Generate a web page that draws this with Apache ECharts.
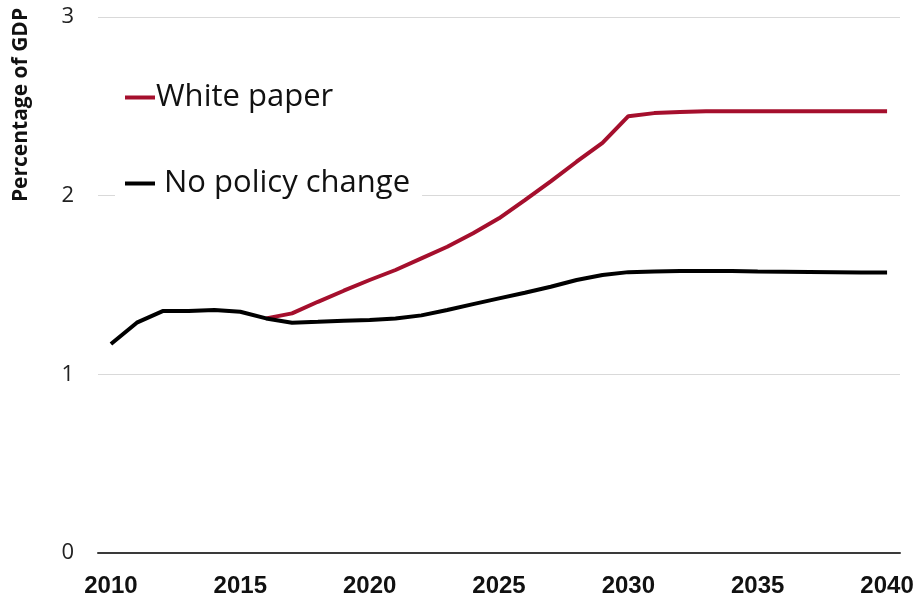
<!DOCTYPE html>
<html>
<head>
<meta charset="utf-8">
<script src="https://cdn.jsdelivr.net/npm/echarts@6/dist/echarts.min.js"></script>
<style>
html,body{margin:0;padding:0;background:#fff;}
#chart{width:917px;height:598px;}
</style>
</head>
<body>
<div id="chart"></div>
<script>
const years = ['2010','2011','2012','2013','2014','2015','2016','2017','2018','2019','2020','2021','2022','2023','2024','2025','2026','2027','2028','2029','2030','2031','2032','2033','2034','2035','2036','2037','2038','2039','2040'];
const whitePaper = [null,null,null,null,null,null,1.313,1.341,1.406,1.468,1.528,1.584,1.649,1.714,1.79,1.873,1.975,2.08,2.19,2.296,2.445,2.462,2.468,2.472,2.473,2.473,2.473,2.473,2.473,2.473,2.473];
const noPolicy = [1.17,1.289,1.354,1.354,1.36,1.35,1.313,1.289,1.294,1.30,1.304,1.313,1.33,1.36,1.393,1.425,1.457,1.49,1.528,1.556,1.572,1.575,1.578,1.578,1.578,1.575,1.574,1.573,1.572,1.570,1.570];
const yTicks = [0, 1, 2, 3];
const yTitle = 'Percentage of GDP';

const chart = echarts.init(document.getElementById('chart'));
chart.setOption({
  backgroundColor: '#fff',
  animation: false,
  grid: {left: 98, right: 17, top: 17, bottom: 45},
  xAxis: {
    type: 'category',
    data: years,
    boundaryGap: true,
    axisLine: {lineStyle: {color: '#3a3a3a', width: 2}},
    axisTick: {show: false},
    axisLabel: {
      interval: 4,
      margin: 21,
      fontSize: 24,
      fontWeight: 'bold',
      color: '#111',
      fontFamily: "'Liberation Sans Narrow', 'Liberation Sans', sans-serif"
    }
  },
  yAxis: {
    type: 'value',
    min: yTicks[0],
    max: yTicks[yTicks.length - 1],
    interval: 1,
    axisLine: {show: false},
    axisTick: {show: false},
    splitLine: {lineStyle: {color: '#d9d9d9', width: 1}},
    axisLabel: {
      margin: 24,
      fontSize: 22,
      color: '#222',
      fontFamily: "'Open Sans', sans-serif"
    }
  },
  legend: [
    {
      data: ['White paper'],
      left: 121, top: 78,
      icon: 'rect', itemWidth: 30, itemHeight: 4, itemGap: 0,
      padding: [4, 4, 4, 4],
      backgroundColor: '#fff',
      textStyle: {fontSize: 31, color: '#111', fontFamily: "'Open Sans', sans-serif", padding: [0, 0, 0, -4]}
    },
    {
      data: ['No policy change'],
      left: 115, top: 162,
      icon: 'rect', itemWidth: 30, itemHeight: 4,
      padding: [6, 12, 10, 10],
      backgroundColor: '#fff',
      textStyle: {fontSize: 31, color: '#111', fontFamily: "'Open Sans', sans-serif", padding: [0, 0, 0, 4]}
    }
  ],
  graphic: [{
    type: 'text',
    x: 21, y: 105,
    rotation: Math.PI / 2,
    style: {
      text: yTitle,
      align: 'center',
      verticalAlign: 'middle',
      font: "bold 21px 'Open Sans', sans-serif",
      fill: '#111'
    }
  }],
  series: [
    {
      name: 'White paper',
      type: 'line',
      data: whitePaper,
      showSymbol: false,
      symbol: 'none',
      lineStyle: {color: '#A50F2D', width: 4},
      itemStyle: {color: '#A50F2D'},
      z: 3
    },
    {
      name: 'No policy change',
      type: 'line',
      data: noPolicy,
      showSymbol: false,
      symbol: 'none',
      lineStyle: {color: '#000', width: 4},
      itemStyle: {color: '#000'},
      z: 4
    }
  ]
});
</script>
</body>
</html>
